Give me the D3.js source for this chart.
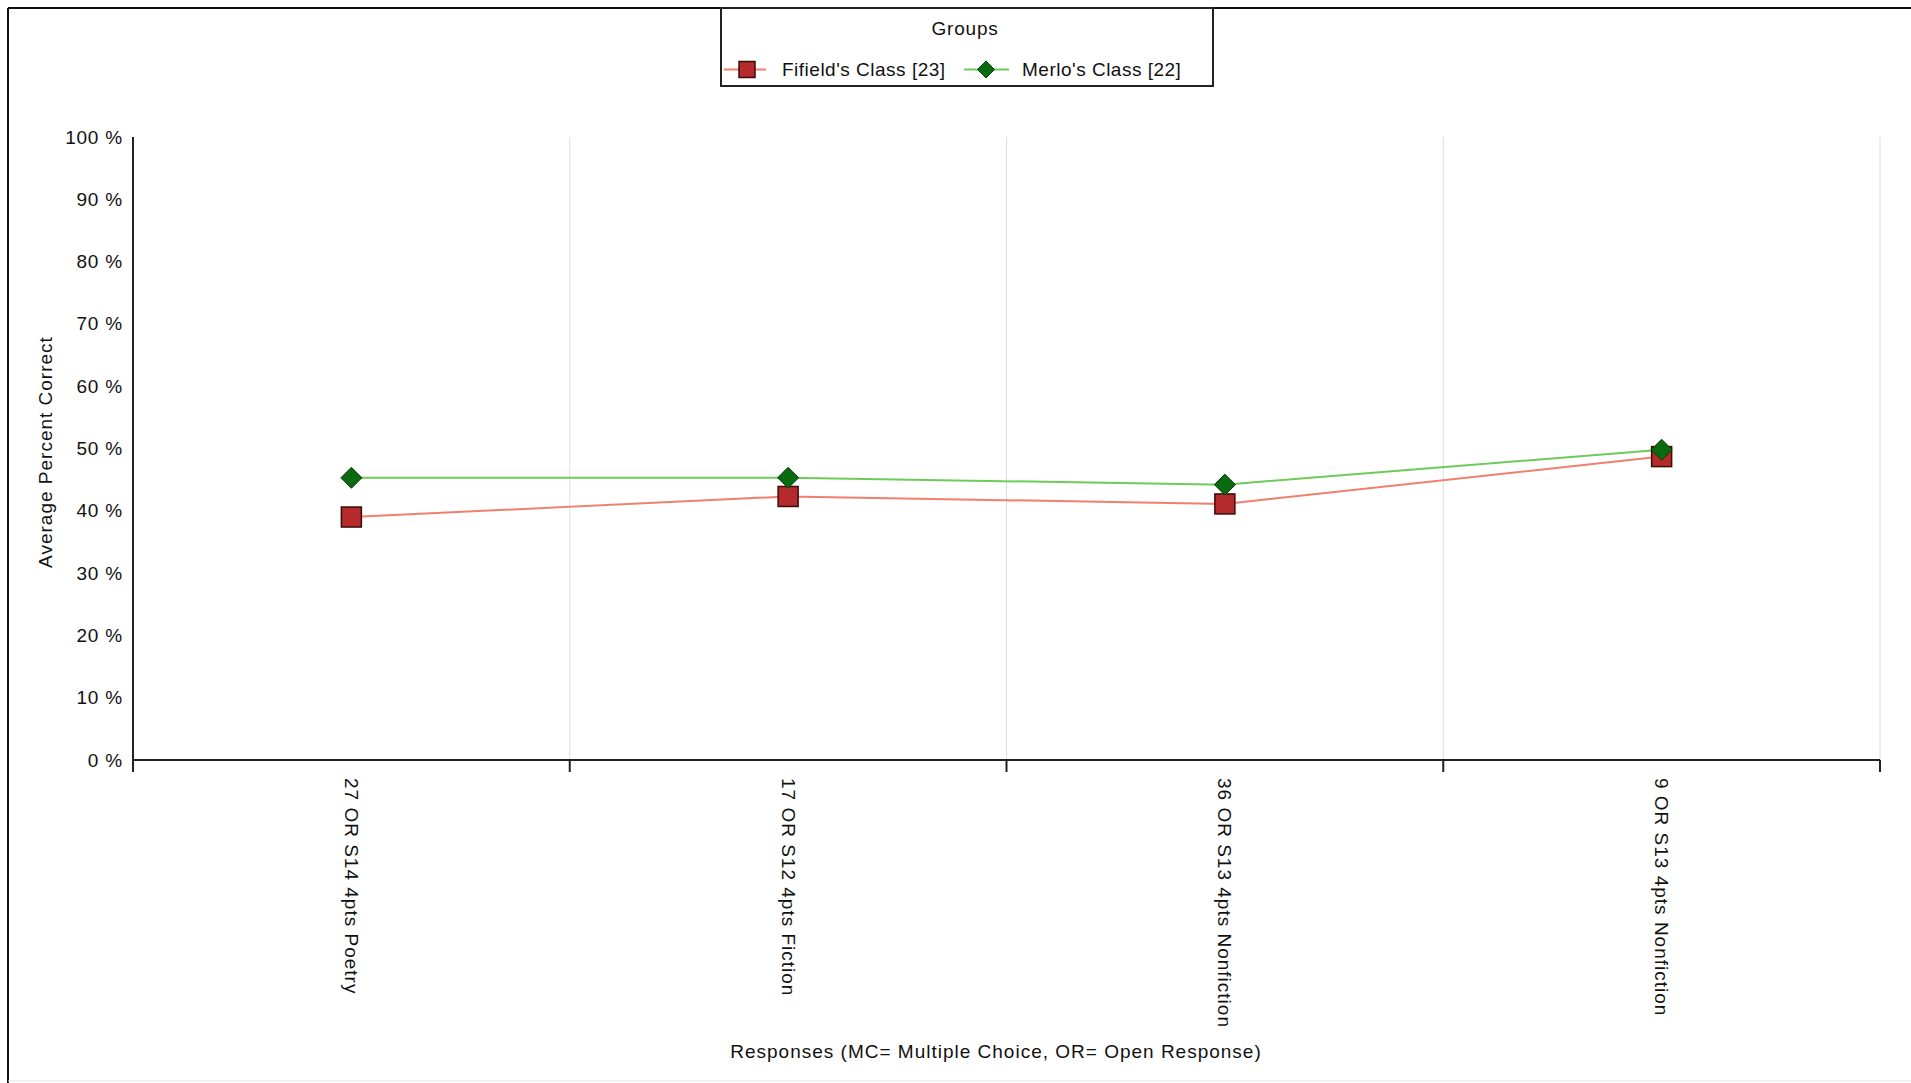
<!DOCTYPE html>
<html>
<head>
<meta charset="utf-8">
<script src="https://cdn.jsdelivr.net/npm/d3@7"></script>
<style>
  html, body { margin: 0; padding: 0; background: #fff; }
  svg { display: block; }
  text { font-family: "Liberation Sans", Arial, sans-serif; fill: #111; }
</style>
</head>
<body>
<svg id="chart" width="1911" height="1083"></svg>
<script>
const categories = ["27 OR S14 4pts Poetry", "17 OR S12 4pts Fiction", "36 OR S13 4pts Nonfiction", "9 OR S13 4pts Nonfiction"];
const fifieldValues = [39.0, 42.3, 41.1, 48.7];
const merloValues = [45.3, 45.3, 44.2, 49.8];
const seriesNames = ["Fifield's Class [23]", "Merlo's Class [22]"];
const yTicks = [0, 10, 20, 30, 40, 50, 60, 70, 80, 90, 100];
const legendTitle = "Groups";
const xTitle = "Responses (MC= Multiple Choice, OR= Open Response)";
const yTitle = "Average Percent Correct";

const svg = d3.select("#chart");
const W = 1911, H = 1083;
const m = { left: 133, right: 1880, top: 137, bottom: 760 };

// Frame
svg.append("line").attr("x1", 8).attr("x2", 8).attr("y1", 8).attr("y2", H).attr("stroke", "#111").attr("stroke-width", 2);
svg.append("line").attr("x1", 8).attr("x2", W).attr("y1", 8).attr("y2", 8).attr("stroke", "#111").attr("stroke-width", 2);
svg.append("line").attr("x1", 8).attr("x2", W).attr("y1", 1081).attr("y2", 1081).attr("stroke", "#e4e4e4").attr("stroke-width", 1);

const x = d3.scaleBand().domain(categories).range([m.left, m.right]).paddingInner(0).paddingOuter(0);
const y = d3.scaleLinear().domain([0, 100]).range([m.bottom, m.top]);

// vertical gridlines at band boundaries
const boundaries = categories.map(c => x(c) + x.bandwidth());
svg.append("g").selectAll("line").data(boundaries).join("line")
  .attr("x1", d => d).attr("x2", d => d)
  .attr("y1", m.top).attr("y2", m.bottom)
  .attr("stroke", "#dcdcdc").attr("stroke-width", 1);

// X axis
const xAxisG = svg.append("g");
xAxisG.append("line").attr("x1", m.left).attr("x2", m.right).attr("y1", m.bottom).attr("y2", m.bottom)
  .attr("stroke", "#222").attr("stroke-width", 2);
xAxisG.selectAll("line.tick").data(boundaries).join("line").attr("class", "tick")
  .attr("x1", d => d).attr("x2", d => d).attr("y1", m.bottom).attr("y2", m.bottom + 12)
  .attr("stroke", "#222").attr("stroke-width", 2);
xAxisG.selectAll("text").data(categories).join("text")
  .attr("transform", d => `translate(${x(d) + x.bandwidth() / 2},${m.bottom + 18}) rotate(90)`)
  .attr("text-anchor", "start").attr("dominant-baseline", "central")
  .style("font-size", "19px").style("letter-spacing", "1px")
  .text(d => d);

// Y axis
const yAxisG = svg.append("g");
yAxisG.append("line").attr("x1", m.left).attr("x2", m.left).attr("y1", m.top).attr("y2", m.bottom + 12)
  .attr("stroke", "#222").attr("stroke-width", 2);
yAxisG.selectAll("text").data(yTicks).join("text")
  .attr("x", m.left - 10).attr("y", d => y(d))
  .attr("text-anchor", "end").attr("dominant-baseline", "central")
  .style("font-size", "19px").style("letter-spacing", "0.8px")
  .text(d => d + " %");

// Axis titles
svg.append("text").attr("x", 996).attr("y", 1051).attr("text-anchor", "middle").attr("dominant-baseline", "central")
  .style("font-size", "19px").style("letter-spacing", "1px").text(xTitle);
svg.append("text").attr("transform", "translate(45,452) rotate(-90)").attr("text-anchor", "middle").attr("dominant-baseline", "central")
  .style("font-size", "19px").style("letter-spacing", "1px").text(yTitle);

// Series
const cx = (d, i) => x(categories[i]) + x.bandwidth() / 2;
const line = d3.line().x((d, i) => cx(d, i)).y(d => y(d));

const fCol = { line: "#f07f6e", fill: "#b52a2a", stroke: "#3a0c0c" };
const mCol = { line: "#6ccc5a", fill: "#0a6a10", stroke: "#063c08" };

svg.append("path").datum(fifieldValues).attr("d", line).attr("fill", "none").attr("stroke", fCol.line).attr("stroke-width", 2);
svg.append("path").datum(merloValues).attr("d", line).attr("fill", "none").attr("stroke", mCol.line).attr("stroke-width", 2);

const sq = 20;
svg.append("g").selectAll("rect").data(fifieldValues).join("rect")
  .attr("x", (d, i) => cx(d, i) - sq / 2).attr("y", d => y(d) - sq / 2)
  .attr("width", sq).attr("height", sq)
  .attr("fill", fCol.fill).attr("stroke", fCol.stroke).attr("stroke-width", 1.5);

const diamond = r => `M0,${-r}L${r},0L0,${r}L${-r},0Z`;
svg.append("g").selectAll("path").data(merloValues).join("path")
  .attr("transform", (d, i) => `translate(${cx(d, i)},${y(d)})`)
  .attr("d", diamond(10.5))
  .attr("fill", mCol.fill).attr("stroke", mCol.stroke).attr("stroke-width", 1);

// Legend
const lg = svg.append("g");
lg.append("rect").attr("x", 721).attr("y", 8).attr("width", 492).attr("height", 78)
  .attr("fill", "#fff").attr("stroke", "#222").attr("stroke-width", 2);
lg.append("text").attr("x", 965).attr("y", 28).attr("text-anchor", "middle").attr("dominant-baseline", "central")
  .style("font-size", "19px").style("letter-spacing", "0.8px").text(legendTitle);
const ly = 69.5;
lg.append("line").attr("x1", 724).attr("x2", 766).attr("y1", ly).attr("y2", ly).attr("stroke", fCol.line).attr("stroke-width", 2);
lg.append("rect").attr("x", 747 - 8).attr("y", ly - 8).attr("width", 16).attr("height", 16)
  .attr("fill", fCol.fill).attr("stroke", fCol.stroke).attr("stroke-width", 1.5);
lg.append("text").attr("x", 782).attr("y", ly).attr("dominant-baseline", "central")
  .style("font-size", "19px").style("letter-spacing", "0.5px").text(seriesNames[0]);
lg.append("line").attr("x1", 964).attr("x2", 1009).attr("y1", ly).attr("y2", ly).attr("stroke", mCol.line).attr("stroke-width", 2);
lg.append("path").attr("transform", `translate(986,${ly})`).attr("d", diamond(8.5))
  .attr("fill", mCol.fill).attr("stroke", mCol.stroke).attr("stroke-width", 1);
lg.append("text").attr("x", 1022).attr("y", ly).attr("dominant-baseline", "central")
  .style("font-size", "19px").style("letter-spacing", "0.5px").text(seriesNames[1]);
</script>
</body>
</html>
